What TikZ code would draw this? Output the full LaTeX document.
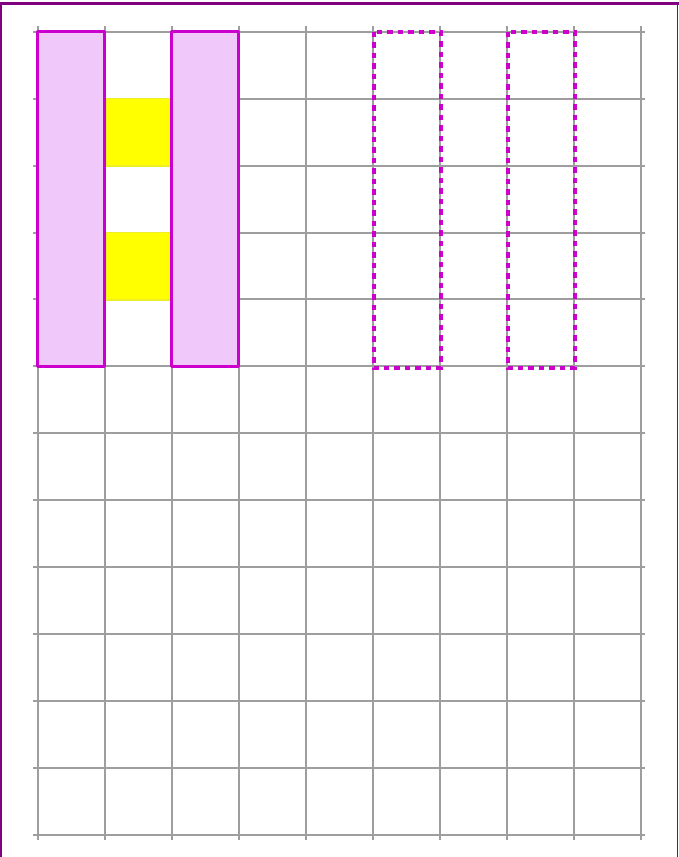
\documentclass[tikz,border=0pt]{standalone}
\begin{document}
\begin{tikzpicture}[x=1pt,y=-1pt,
  gridline/.style={draw=gridgray,line width=2pt},
  frameline/.style={draw=framepurple},
  solidbar/.style={draw=barmagenta,fill=barpink,line width=3.5pt,line join=round},
  dashbar/.style={draw=barmagenta,line width=3.8pt,dash pattern=on 5.5pt off 5pt},
  yellowcell/.style={fill=cellyellow,draw=celledge,line width=1.5pt}]
\definecolor{gridgray}{RGB}{158,158,158}
\definecolor{framepurple}{RGB}{128,0,128}
\definecolor{barmagenta}{RGB}{204,0,204}
\definecolor{barpink}{RGB}{240,200,250}
\definecolor{cellyellow}{RGB}{255,255,0}
\definecolor{celledge}{RGB}{238,238,40}
\useasboundingbox (0,0) rectangle (679,857);
\fill[white] (0,0) rectangle (679,857);
% grid
\foreach \i in {0,...,9} {
  \draw[gridline] ({37.7+67*\i},26) -- ({37.7+67*\i},839.5);
}
\foreach \j in {0,...,12} {
  \draw[gridline] (33,{31.7+66.94*\j}) -- (644.5,{31.7+66.94*\j});
}
% yellow cells
\path[yellowcell] (106,98.6) rectangle (171,166);
\path[yellowcell] (106,232.5) rectangle (171,300);
% solid bars
\path[solidbar] (37.7,31.7) rectangle (104.7,366.4);
\path[solidbar] (171.7,31.7) rectangle (238.7,366.4);
% dashed bars
\path[dashbar] (373.7,31.7) rectangle (440.7,368);
\path[dashbar] (507.7,31.7) rectangle (574.7,368);
% frame
\draw[frameline,line width=3.5pt] (0,3.5) -- (679,3.5);
\draw[frameline,line width=2.2pt] (1.1,2) -- (1.1,857);
\draw[frameline,line width=1.5pt] (677.6,2) -- (677.6,857);
\end{tikzpicture}
\end{document}
